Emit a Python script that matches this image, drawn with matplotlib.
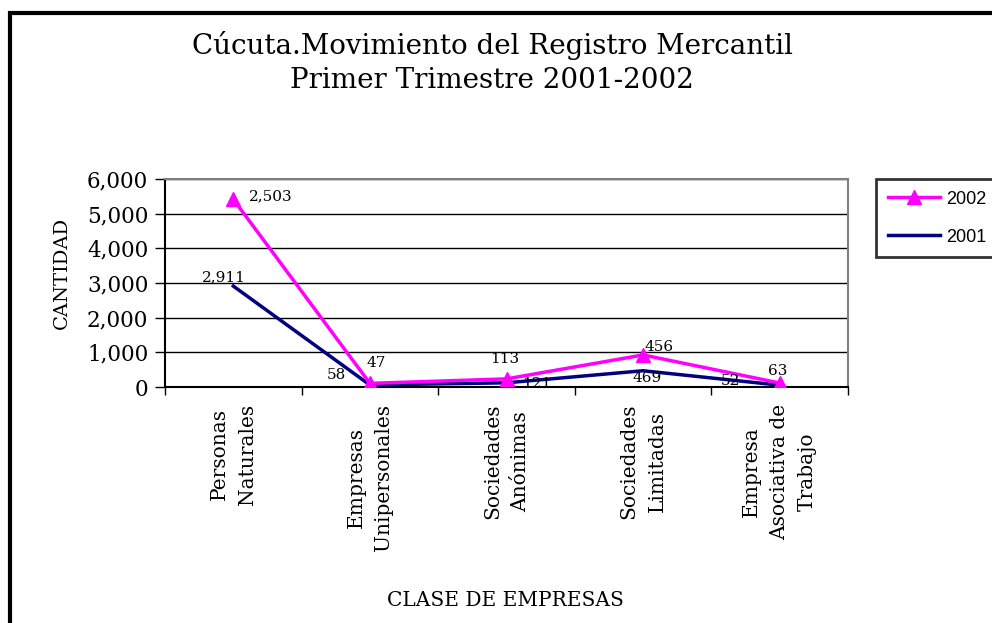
import numpy as np
import matplotlib.pyplot as plt
from matplotlib.patches import Rectangle

# datos
categorias = ["Personas\nNaturales", "Empresas\nUnipersonales", "Sociedades\nAnónimas",
              "Sociedades\nLimitadas", "Empresa\nAsociativa de\nTrabajo"]
v2001 = [2911, 58, 121, 469, 52]
v2002 = [2503, 47, 113, 456, 63]
yticks = [0, 1000, 2000, 3000, 4000, 5000, 6000]

# desplazamientos de las etiquetas (pixeles)
off2002 = [(37, 3), (6, 20), (-2, 20), (16, 8), (-2, 12)]
off2001 = [(-9, 9), (-34, 10), (30, -1), (4, -7), (-49, 4)]

# línea apilada como en Excel
apilado = np.array(v2001) + np.array(v2002)
x = np.arange(len(categorias))

serif = "DejaVu Serif"

fig = plt.figure(figsize=(9.92, 6.23), dpi=100)
ax = fig.add_axes([165 / 992, 1 - 387 / 623, 683 / 992, 208 / 623])

ax.plot(x, apilado, color="#FF00FF", lw=2.5, marker="^", ms=10, label="2002", zorder=4)
ax.plot(x, v2001, color="#000080", lw=2.5, label="2001", zorder=3)

for i in range(len(x)):
    ax.annotate(f"{v2002[i]:,}", (x[i], apilado[i]), xytext=off2002[i], textcoords="offset pixels",
                ha="center", va="center", fontsize=11, family=serif, zorder=5)
    ax.annotate(f"{v2001[i]:,}", (x[i], v2001[i]), xytext=off2001[i], textcoords="offset pixels",
                ha="center", va="center", fontsize=11, family=serif, zorder=5)

ax.set_xlim(-0.5, 4.5)
ax.set_ylim(0, 6000)
ax.set_yticks(yticks)
ax.set_yticklabels([f"{t:,}" for t in yticks], family=serif, fontsize=15.5)
ax.yaxis.grid(True, color="black", lw=1)
ax.set_axisbelow(True)

ax.set_xticks(x)
ax.set_xticklabels(categorias, rotation=90, family=serif, fontsize=14.5,
                   ha="center", va="top", multialignment="center", linespacing=1.6)
ax.set_xticks(np.arange(-0.5, 5, 1), minor=True)
ax.tick_params(axis="x", which="major", length=0, pad=12)
ax.tick_params(axis="x", which="minor", length=6, width=1, color="black", direction="out")
ax.tick_params(axis="y", length=7, width=1, color="black", direction="out", pad=5)

for s in ["top", "right"]:
    ax.spines[s].set_color("#808080")
    ax.spines[s].set_linewidth(1.5)
for s in ["left", "bottom"]:
    ax.spines[s].set_color("black")
    ax.spines[s].set_linewidth(1.5)

fig.text(62 / 992, 1 - 273 / 623, "CANTIDAD", rotation=90, ha="center", va="center",
         family=serif, fontsize=14)

fig.text(492 / 992, 1 - 45 / 623, "Cúcuta.Movimiento del Registro Mercantil", ha="center",
         va="center", family=serif, fontsize=20)
fig.text(492 / 992, 1 - 80 / 623, "Primer Trimestre 2001-2002", ha="center", va="center",
         family=serif, fontsize=20)
fig.text(505 / 992, 1 - 600 / 623, "CLASE DE EMPRESAS", ha="center", va="center",
         family=serif, fontsize=14.5)

leg = ax.legend(loc="upper left", bbox_to_anchor=(876 / 992, 1 - 179 / 623),
                bbox_transform=fig.transFigure, frameon=True, fancybox=False, borderaxespad=0,
                prop={"family": "Liberation Sans", "size": 13}, handlelength=2.9,
                handletextpad=0.35, borderpad=0.65, labelspacing=1.15)
leg.get_frame().set_edgecolor("black")
leg.get_frame().set_linewidth(2)

# marco exterior
fig.patches.append(Rectangle((10 / 992, -0.2), 1.5, 1.2 - 13 / 623, transform=fig.transFigure,
                             fill=False, edgecolor="black", lw=3))

fig.savefig("out.png", dpi=100)
